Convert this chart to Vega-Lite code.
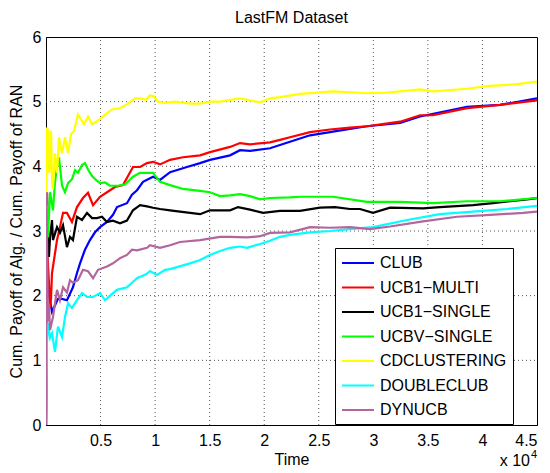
{
"$schema": "https://vega.github.io/schema/vega-lite/v6.json",
"width": 491, "height": 388,
"autosize": "none",
"padding": {"left": 46, "top": 37, "right": 13, "bottom": 48},
"background": "white",
"title": {"text": "LastFM Dataset", "font": "Liberation Sans", "fontSize": 16, "fontWeight": "normal", "color": "black", "anchor": "middle", "offset": 3},
"config": {
  "view": {"stroke": "black", "strokeWidth": 1},
  "axis": {"domainColor": "black", "labelColor": "black", "titleColor": "black", "labelFont": "Liberation Sans", "labelFontSize": 16, "titleFont": "Liberation Sans", "titleFontSize": 16, "titleFontWeight": "normal", "ticks": false, "grid": false}
},
"datasets": {
"main": [
{"alg":"CLUB","t":0,"v":0},{"alg":"CLUB","t":0.009,"v":2.2},{"alg":"CLUB","t":0.055,"v":1.75},{"alg":"CLUB","t":0.110,"v":1.95},{"alg":"CLUB","t":0.147,"v":1.95},{"alg":"CLUB","t":0.192,"v":1.93},{"alg":"CLUB","t":0.247,"v":2.13},{"alg":"CLUB","t":0.284,"v":2.35},{"alg":"CLUB","t":0.312,"v":2.5},{"alg":"CLUB","t":0.357,"v":2.71},{"alg":"CLUB","t":0.403,"v":2.86},{"alg":"CLUB","t":0.449,"v":2.98},{"alg":"CLUB","t":0.495,"v":3.06},{"alg":"CLUB","t":0.559,"v":3.14},{"alg":"CLUB","t":0.614,"v":3.25},{"alg":"CLUB","t":0.651,"v":3.37},{"alg":"CLUB","t":0.742,"v":3.43},{"alg":"CLUB","t":0.788,"v":3.56},{"alg":"CLUB","t":0.834,"v":3.63},{"alg":"CLUB","t":0.889,"v":3.76},{"alg":"CLUB","t":0.981,"v":3.84},{"alg":"CLUB","t":1.045,"v":3.79},{"alg":"CLUB","t":1.137,"v":3.91},{"alg":"CLUB","t":1.292,"v":3.99},{"alg":"CLUB","t":1.412,"v":4.05},{"alg":"CLUB","t":1.503,"v":4.1},{"alg":"CLUB","t":1.687,"v":4.17},{"alg":"CLUB","t":1.778,"v":4.25},{"alg":"CLUB","t":1.870,"v":4.24},{"alg":"CLUB","t":2.053,"v":4.28},{"alg":"CLUB","t":2.236,"v":4.38},{"alg":"CLUB","t":2.420,"v":4.48},{"alg":"CLUB","t":2.603,"v":4.53},{"alg":"CLUB","t":2.786,"v":4.58},{"alg":"CLUB","t":2.942,"v":4.62},{"alg":"CLUB","t":3.245,"v":4.67},{"alg":"CLUB","t":3.428,"v":4.77},{"alg":"CLUB","t":3.859,"v":4.92},{"alg":"CLUB","t":4.161,"v":4.95},{"alg":"CLUB","t":4.5,"v":5.05},
{"alg":"UCB1−MULTI","t":0,"v":0},{"alg":"UCB1−MULTI","t":0.009,"v":2.8},{"alg":"UCB1−MULTI","t":0.027,"v":2.2},{"alg":"UCB1−MULTI","t":0.037,"v":1.82},{"alg":"UCB1−MULTI","t":0.046,"v":1.95},{"alg":"UCB1−MULTI","t":0.055,"v":2.35},{"alg":"UCB1−MULTI","t":0.101,"v":2.86},{"alg":"UCB1−MULTI","t":0.128,"v":3.06},{"alg":"UCB1−MULTI","t":0.156,"v":3.28},{"alg":"UCB1−MULTI","t":0.192,"v":3.28},{"alg":"UCB1−MULTI","t":0.238,"v":3.14},{"alg":"UCB1−MULTI","t":0.284,"v":3.37},{"alg":"UCB1−MULTI","t":0.339,"v":3.51},{"alg":"UCB1−MULTI","t":0.385,"v":3.59},{"alg":"UCB1−MULTI","t":0.431,"v":3.4},{"alg":"UCB1−MULTI","t":0.495,"v":3.53},{"alg":"UCB1−MULTI","t":0.587,"v":3.63},{"alg":"UCB1−MULTI","t":0.632,"v":3.68},{"alg":"UCB1−MULTI","t":0.706,"v":3.71},{"alg":"UCB1−MULTI","t":0.797,"v":3.99},{"alg":"UCB1−MULTI","t":0.862,"v":3.99},{"alg":"UCB1−MULTI","t":0.926,"v":4.05},{"alg":"UCB1−MULTI","t":0.981,"v":4.07},{"alg":"UCB1−MULTI","t":1.045,"v":4.03},{"alg":"UCB1−MULTI","t":1.137,"v":4.1},{"alg":"UCB1−MULTI","t":1.256,"v":4.14},{"alg":"UCB1−MULTI","t":1.412,"v":4.17},{"alg":"UCB1−MULTI","t":1.503,"v":4.22},{"alg":"UCB1−MULTI","t":1.687,"v":4.3},{"alg":"UCB1−MULTI","t":1.778,"v":4.36},{"alg":"UCB1−MULTI","t":1.870,"v":4.34},{"alg":"UCB1−MULTI","t":2.053,"v":4.37},{"alg":"UCB1−MULTI","t":2.145,"v":4.41},{"alg":"UCB1−MULTI","t":2.236,"v":4.45},{"alg":"UCB1−MULTI","t":2.420,"v":4.53},{"alg":"UCB1−MULTI","t":2.603,"v":4.57},{"alg":"UCB1−MULTI","t":2.786,"v":4.6},{"alg":"UCB1−MULTI","t":2.942,"v":4.62},{"alg":"UCB1−MULTI","t":3.245,"v":4.69},{"alg":"UCB1−MULTI","t":3.428,"v":4.79},{"alg":"UCB1−MULTI","t":3.547,"v":4.79},{"alg":"UCB1−MULTI","t":3.859,"v":4.9},{"alg":"UCB1−MULTI","t":4.161,"v":4.95},{"alg":"UCB1−MULTI","t":4.5,"v":5.02},
{"alg":"UCB1−SINGLE","t":0,"v":0},{"alg":"UCB1−SINGLE","t":0.009,"v":3.6},{"alg":"UCB1−SINGLE","t":0.018,"v":3.0},{"alg":"UCB1−SINGLE","t":0.027,"v":2.6},{"alg":"UCB1−SINGLE","t":0.037,"v":2.9},{"alg":"UCB1−SINGLE","t":0.055,"v":3.17},{"alg":"UCB1−SINGLE","t":0.064,"v":2.86},{"alg":"UCB1−SINGLE","t":0.101,"v":3.06},{"alg":"UCB1−SINGLE","t":0.128,"v":2.97},{"alg":"UCB1−SINGLE","t":0.156,"v":3.09},{"alg":"UCB1−SINGLE","t":0.192,"v":2.75},{"alg":"UCB1−SINGLE","t":0.220,"v":2.91},{"alg":"UCB1−SINGLE","t":0.247,"v":2.86},{"alg":"UCB1−SINGLE","t":0.284,"v":3.22},{"alg":"UCB1−SINGLE","t":0.330,"v":3.17},{"alg":"UCB1−SINGLE","t":0.376,"v":3.28},{"alg":"UCB1−SINGLE","t":0.422,"v":3.2},{"alg":"UCB1−SINGLE","t":0.467,"v":3.2},{"alg":"UCB1−SINGLE","t":0.513,"v":3.22},{"alg":"UCB1−SINGLE","t":0.559,"v":3.14},{"alg":"UCB1−SINGLE","t":0.614,"v":3.16},{"alg":"UCB1−SINGLE","t":0.678,"v":3.12},{"alg":"UCB1−SINGLE","t":0.742,"v":3.16},{"alg":"UCB1−SINGLE","t":0.797,"v":3.32},{"alg":"UCB1−SINGLE","t":0.862,"v":3.4},{"alg":"UCB1−SINGLE","t":0.926,"v":3.38},{"alg":"UCB1−SINGLE","t":0.981,"v":3.36},{"alg":"UCB1−SINGLE","t":1.045,"v":3.34},{"alg":"UCB1−SINGLE","t":1.137,"v":3.32},{"alg":"UCB1−SINGLE","t":1.228,"v":3.3},{"alg":"UCB1−SINGLE","t":1.412,"v":3.26},{"alg":"UCB1−SINGLE","t":1.503,"v":3.32},{"alg":"UCB1−SINGLE","t":1.687,"v":3.32},{"alg":"UCB1−SINGLE","t":1.760,"v":3.37},{"alg":"UCB1−SINGLE","t":1.870,"v":3.33},{"alg":"UCB1−SINGLE","t":1.989,"v":3.28},{"alg":"UCB1−SINGLE","t":2.145,"v":3.31},{"alg":"UCB1−SINGLE","t":2.328,"v":3.31},{"alg":"UCB1−SINGLE","t":2.511,"v":3.36},{"alg":"UCB1−SINGLE","t":2.649,"v":3.37},{"alg":"UCB1−SINGLE","t":2.786,"v":3.34},{"alg":"UCB1−SINGLE","t":2.878,"v":3.34},{"alg":"UCB1−SINGLE","t":2.997,"v":3.28},{"alg":"UCB1−SINGLE","t":3.153,"v":3.36},{"alg":"UCB1−SINGLE","t":3.456,"v":3.35},{"alg":"UCB1−SINGLE","t":3.611,"v":3.37},{"alg":"UCB1−SINGLE","t":3.914,"v":3.4},{"alg":"UCB1−SINGLE","t":4.097,"v":3.43},{"alg":"UCB1−SINGLE","t":4.409,"v":3.49},{"alg":"UCB1−SINGLE","t":4.5,"v":3.51},
{"alg":"UCBV−SINGLE","t":0,"v":0},{"alg":"UCBV−SINGLE","t":0.009,"v":3.4},{"alg":"UCBV−SINGLE","t":0.018,"v":2.9},{"alg":"UCBV−SINGLE","t":0.037,"v":3.6},{"alg":"UCBV−SINGLE","t":0.064,"v":3.32},{"alg":"UCBV−SINGLE","t":0.082,"v":3.74},{"alg":"UCBV−SINGLE","t":0.101,"v":4.0},{"alg":"UCBV−SINGLE","t":0.119,"v":4.14},{"alg":"UCBV−SINGLE","t":0.147,"v":3.7},{"alg":"UCBV−SINGLE","t":0.174,"v":3.6},{"alg":"UCBV−SINGLE","t":0.202,"v":3.74},{"alg":"UCBV−SINGLE","t":0.238,"v":3.8},{"alg":"UCBV−SINGLE","t":0.266,"v":3.94},{"alg":"UCBV−SINGLE","t":0.293,"v":3.9},{"alg":"UCBV−SINGLE","t":0.330,"v":4.02},{"alg":"UCBV−SINGLE","t":0.357,"v":4.05},{"alg":"UCBV−SINGLE","t":0.385,"v":3.95},{"alg":"UCBV−SINGLE","t":0.422,"v":3.85},{"alg":"UCBV−SINGLE","t":0.458,"v":3.79},{"alg":"UCBV−SINGLE","t":0.495,"v":3.74},{"alg":"UCBV−SINGLE","t":0.541,"v":3.75},{"alg":"UCBV−SINGLE","t":0.587,"v":3.7},{"alg":"UCBV−SINGLE","t":0.660,"v":3.7},{"alg":"UCBV−SINGLE","t":0.724,"v":3.72},{"alg":"UCBV−SINGLE","t":0.797,"v":3.84},{"alg":"UCBV−SINGLE","t":0.862,"v":3.9},{"alg":"UCBV−SINGLE","t":0.926,"v":3.9},{"alg":"UCBV−SINGLE","t":0.981,"v":3.9},{"alg":"UCBV−SINGLE","t":1.045,"v":3.76},{"alg":"UCBV−SINGLE","t":1.137,"v":3.71},{"alg":"UCBV−SINGLE","t":1.256,"v":3.65},{"alg":"UCBV−SINGLE","t":1.412,"v":3.62},{"alg":"UCBV−SINGLE","t":1.503,"v":3.6},{"alg":"UCBV−SINGLE","t":1.595,"v":3.54},{"alg":"UCBV−SINGLE","t":1.687,"v":3.55},{"alg":"UCBV−SINGLE","t":1.778,"v":3.57},{"alg":"UCBV−SINGLE","t":1.870,"v":3.54},{"alg":"UCBV−SINGLE","t":1.962,"v":3.49},{"alg":"UCBV−SINGLE","t":2.053,"v":3.51},{"alg":"UCBV−SINGLE","t":2.236,"v":3.52},{"alg":"UCBV−SINGLE","t":2.328,"v":3.53},{"alg":"UCBV−SINGLE","t":2.631,"v":3.53},{"alg":"UCBV−SINGLE","t":2.942,"v":3.45},{"alg":"UCBV−SINGLE","t":3.245,"v":3.45},{"alg":"UCBV−SINGLE","t":3.547,"v":3.43},{"alg":"UCBV−SINGLE","t":3.859,"v":3.46},{"alg":"UCBV−SINGLE","t":4.161,"v":3.46},{"alg":"UCBV−SINGLE","t":4.5,"v":3.51},
{"alg":"CDCLUSTERING","t":0,"v":0},{"alg":"CDCLUSTERING","t":0.004,"v":3.6},{"alg":"CDCLUSTERING","t":0.009,"v":4.6},{"alg":"CDCLUSTERING","t":0.018,"v":4.55},{"alg":"CDCLUSTERING","t":0.027,"v":3.9},{"alg":"CDCLUSTERING","t":0.037,"v":4.0},{"alg":"CDCLUSTERING","t":0.046,"v":4.55},{"alg":"CDCLUSTERING","t":0.055,"v":3.8},{"alg":"CDCLUSTERING","t":0.064,"v":3.65},{"alg":"CDCLUSTERING","t":0.082,"v":4.2},{"alg":"CDCLUSTERING","t":0.101,"v":3.9},{"alg":"CDCLUSTERING","t":0.119,"v":4.45},{"alg":"CDCLUSTERING","t":0.147,"v":4.2},{"alg":"CDCLUSTERING","t":0.174,"v":4.45},{"alg":"CDCLUSTERING","t":0.202,"v":4.2},{"alg":"CDCLUSTERING","t":0.229,"v":4.5},{"alg":"CDCLUSTERING","t":0.257,"v":4.55},{"alg":"CDCLUSTERING","t":0.293,"v":4.8},{"alg":"CDCLUSTERING","t":0.312,"v":4.75},{"alg":"CDCLUSTERING","t":0.348,"v":4.65},{"alg":"CDCLUSTERING","t":0.385,"v":4.77},{"alg":"CDCLUSTERING","t":0.422,"v":4.65},{"alg":"CDCLUSTERING","t":0.467,"v":4.7},{"alg":"CDCLUSTERING","t":0.495,"v":4.73},{"alg":"CDCLUSTERING","t":0.541,"v":4.8},{"alg":"CDCLUSTERING","t":0.605,"v":4.88},{"alg":"CDCLUSTERING","t":0.678,"v":4.9},{"alg":"CDCLUSTERING","t":0.752,"v":4.97},{"alg":"CDCLUSTERING","t":0.816,"v":5.05},{"alg":"CDCLUSTERING","t":0.862,"v":5.05},{"alg":"CDCLUSTERING","t":0.917,"v":5.03},{"alg":"CDCLUSTERING","t":0.953,"v":5.1},{"alg":"CDCLUSTERING","t":0.990,"v":5.08},{"alg":"CDCLUSTERING","t":1.027,"v":5.0},{"alg":"CDCLUSTERING","t":1.091,"v":4.98},{"alg":"CDCLUSTERING","t":1.182,"v":5.0},{"alg":"CDCLUSTERING","t":1.320,"v":4.97},{"alg":"CDCLUSTERING","t":1.412,"v":4.97},{"alg":"CDCLUSTERING","t":1.503,"v":5.0},{"alg":"CDCLUSTERING","t":1.595,"v":5.0},{"alg":"CDCLUSTERING","t":1.778,"v":5.05},{"alg":"CDCLUSTERING","t":1.962,"v":4.99},{"alg":"CDCLUSTERING","t":2.053,"v":5.05},{"alg":"CDCLUSTERING","t":2.145,"v":5.07},{"alg":"CDCLUSTERING","t":2.328,"v":5.12},{"alg":"CDCLUSTERING","t":2.631,"v":5.16},{"alg":"CDCLUSTERING","t":2.942,"v":5.13},{"alg":"CDCLUSTERING","t":3.126,"v":5.14},{"alg":"CDCLUSTERING","t":3.428,"v":5.19},{"alg":"CDCLUSTERING","t":3.547,"v":5.16},{"alg":"CDCLUSTERING","t":3.859,"v":5.2},{"alg":"CDCLUSTERING","t":4.042,"v":5.24},{"alg":"CDCLUSTERING","t":4.317,"v":5.27},{"alg":"CDCLUSTERING","t":4.5,"v":5.31},
{"alg":"DOUBLECLUB","t":0,"v":0},{"alg":"DOUBLECLUB","t":0.009,"v":1.27},{"alg":"DOUBLECLUB","t":0.018,"v":1.58},{"alg":"DOUBLECLUB","t":0.037,"v":1.35},{"alg":"DOUBLECLUB","t":0.055,"v":1.42},{"alg":"DOUBLECLUB","t":0.082,"v":1.13},{"alg":"DOUBLECLUB","t":0.110,"v":1.52},{"alg":"DOUBLECLUB","t":0.147,"v":1.36},{"alg":"DOUBLECLUB","t":0.174,"v":1.67},{"alg":"DOUBLECLUB","t":0.202,"v":1.88},{"alg":"DOUBLECLUB","t":0.238,"v":1.81},{"alg":"DOUBLECLUB","t":0.284,"v":1.93},{"alg":"DOUBLECLUB","t":0.330,"v":2.04},{"alg":"DOUBLECLUB","t":0.376,"v":1.98},{"alg":"DOUBLECLUB","t":0.431,"v":1.98},{"alg":"DOUBLECLUB","t":0.495,"v":2.04},{"alg":"DOUBLECLUB","t":0.541,"v":1.93},{"alg":"DOUBLECLUB","t":0.587,"v":2.0},{"alg":"DOUBLECLUB","t":0.651,"v":2.09},{"alg":"DOUBLECLUB","t":0.742,"v":2.13},{"alg":"DOUBLECLUB","t":0.834,"v":2.27},{"alg":"DOUBLECLUB","t":0.917,"v":2.33},{"alg":"DOUBLECLUB","t":0.953,"v":2.38},{"alg":"DOUBLECLUB","t":1.017,"v":2.32},{"alg":"DOUBLECLUB","t":1.091,"v":2.4},{"alg":"DOUBLECLUB","t":1.137,"v":2.41},{"alg":"DOUBLECLUB","t":1.320,"v":2.5},{"alg":"DOUBLECLUB","t":1.412,"v":2.55},{"alg":"DOUBLECLUB","t":1.503,"v":2.63},{"alg":"DOUBLECLUB","t":1.595,"v":2.69},{"alg":"DOUBLECLUB","t":1.687,"v":2.74},{"alg":"DOUBLECLUB","t":1.778,"v":2.76},{"alg":"DOUBLECLUB","t":1.842,"v":2.74},{"alg":"DOUBLECLUB","t":1.962,"v":2.8},{"alg":"DOUBLECLUB","t":2.053,"v":2.85},{"alg":"DOUBLECLUB","t":2.145,"v":2.91},{"alg":"DOUBLECLUB","t":2.236,"v":2.94},{"alg":"DOUBLECLUB","t":2.420,"v":2.98},{"alg":"DOUBLECLUB","t":2.603,"v":3.0},{"alg":"DOUBLECLUB","t":2.786,"v":3.03},{"alg":"DOUBLECLUB","t":2.997,"v":3.06},{"alg":"DOUBLECLUB","t":3.309,"v":3.17},{"alg":"DOUBLECLUB","t":3.611,"v":3.26},{"alg":"DOUBLECLUB","t":3.914,"v":3.3},{"alg":"DOUBLECLUB","t":4.225,"v":3.34},{"alg":"DOUBLECLUB","t":4.5,"v":3.39},
{"alg":"DYNUCB","t":0,"v":0},{"alg":"DYNUCB","t":0.004,"v":3.6},{"alg":"DYNUCB","t":0.018,"v":1.6},{"alg":"DYNUCB","t":0.027,"v":1.88},{"alg":"DYNUCB","t":0.037,"v":1.47},{"alg":"DYNUCB","t":0.064,"v":1.67},{"alg":"DYNUCB","t":0.101,"v":2.09},{"alg":"DYNUCB","t":0.128,"v":1.93},{"alg":"DYNUCB","t":0.156,"v":2.13},{"alg":"DYNUCB","t":0.192,"v":2.05},{"alg":"DYNUCB","t":0.220,"v":2.24},{"alg":"DYNUCB","t":0.247,"v":2.2},{"alg":"DYNUCB","t":0.293,"v":2.24},{"alg":"DYNUCB","t":0.339,"v":2.4},{"alg":"DYNUCB","t":0.385,"v":2.38},{"alg":"DYNUCB","t":0.431,"v":2.27},{"alg":"DYNUCB","t":0.477,"v":2.4},{"alg":"DYNUCB","t":0.559,"v":2.45},{"alg":"DYNUCB","t":0.614,"v":2.5},{"alg":"DYNUCB","t":0.678,"v":2.58},{"alg":"DYNUCB","t":0.742,"v":2.63},{"alg":"DYNUCB","t":0.788,"v":2.71},{"alg":"DYNUCB","t":0.834,"v":2.7},{"alg":"DYNUCB","t":0.926,"v":2.74},{"alg":"DYNUCB","t":0.953,"v":2.78},{"alg":"DYNUCB","t":1.045,"v":2.74},{"alg":"DYNUCB","t":1.137,"v":2.78},{"alg":"DYNUCB","t":1.228,"v":2.83},{"alg":"DYNUCB","t":1.412,"v":2.86},{"alg":"DYNUCB","t":1.595,"v":2.91},{"alg":"DYNUCB","t":1.687,"v":2.91},{"alg":"DYNUCB","t":1.842,"v":2.9},{"alg":"DYNUCB","t":1.962,"v":2.92},{"alg":"DYNUCB","t":2.053,"v":2.97},{"alg":"DYNUCB","t":2.236,"v":2.98},{"alg":"DYNUCB","t":2.420,"v":3.06},{"alg":"DYNUCB","t":2.603,"v":3.05},{"alg":"DYNUCB","t":2.786,"v":3.06},{"alg":"DYNUCB","t":2.970,"v":3.03},{"alg":"DYNUCB","t":3.153,"v":3.07},{"alg":"DYNUCB","t":3.456,"v":3.15},{"alg":"DYNUCB","t":3.767,"v":3.22},{"alg":"DYNUCB","t":4.070,"v":3.25},{"alg":"DYNUCB","t":4.372,"v":3.28},{"alg":"DYNUCB","t":4.5,"v":3.3}
]},
"layer": [
  {
    "data": {"values": [{"g":0.5},{"g":1},{"g":1.5},{"g":2},{"g":2.5},{"g":3},{"g":3.5},{"g":4}]},
    "mark": {"type": "rule", "strokeDash": [1, 3], "color": "#555555", "strokeWidth": 1},
    "encoding": {"x": {"field": "g", "type": "quantitative"}, "y": {"datum": 0, "type": "quantitative"}, "y2": {"datum": 6}}
  },
  {
    "data": {"values": [{"g":1},{"g":2},{"g":3},{"g":4},{"g":5}]},
    "mark": {"type": "rule", "strokeDash": [1, 3], "color": "#555555", "strokeWidth": 1},
    "encoding": {"y": {"field": "g", "type": "quantitative"}, "x": {"datum": 0, "type": "quantitative"}, "x2": {"datum": 4.5}}
  },
  {
    "data": {"name": "main"},
    "mark": {"type": "line", "strokeWidth": 2.2, "clip": true},
    "encoding": {
      "x": {"field": "t", "type": "quantitative", "scale": {"domain": [0, 4.5], "nice": false, "zero": false},
            "axis": {"values": [0.5, 1, 1.5, 2, 2.5, 3, 3.5, 4, 4.5], "format": "~g", "title": "Time", "labelPadding": 7, "titlePadding": 3}},
      "y": {"field": "v", "type": "quantitative", "scale": {"domain": [0, 6], "nice": false},
            "axis": {"values": [0, 1, 2, 3, 4, 5, 6], "format": "~g", "title": "Cum. Payoff of Alg. / Cum. Payoff of RAN", "labelPadding": 5, "titlePadding": 8}},
      "color": {"field": "alg", "type": "nominal",
        "scale": {"domain": ["CLUB", "UCB1−MULTI", "UCB1−SINGLE", "UCBV−SINGLE", "CDCLUSTERING", "DOUBLECLUB", "DYNUCB"],
                  "range": ["#0000FF", "#FF0000", "#000000", "#00FF00", "#FFFF00", "#00FFFF", "#B3669E"]},
        "legend": {"title": null, "orient": "none", "legendX": 289, "legendY": 211, "strokeColor": "black", "fillColor": "white", "padding": 6,
                   "labelFont": "Liberation Sans", "labelFontSize": 16, "labelColor": "black", "symbolType": "M-2,0H2", "symbolSize": 256, "symbolStrokeWidth": 2,
                   "rowPadding": 7.5, "symbolOffset": 8, "labelOffset": 13, "cornerRadius": 0}}
    }
  },
  {
    "data": {"values": [{"label": "x 10"}]},
    "mark": {"type": "text", "font": "Liberation Sans", "fontSize": 16, "color": "black", "align": "right", "baseline": "alphabetic", "dx": -7, "dy": 41},
    "encoding": {"x": {"datum": 4.5, "type": "quantitative"}, "y": {"datum": 0, "type": "quantitative"}, "text": {"field": "label"}}
  },
  {
    "data": {"values": [{"label": "4"}]},
    "mark": {"type": "text", "font": "Liberation Sans", "fontSize": 11, "color": "black", "align": "left", "baseline": "alphabetic", "dx": -6, "dy": 33},
    "encoding": {"x": {"datum": 4.5, "type": "quantitative"}, "y": {"datum": 0, "type": "quantitative"}, "text": {"field": "label"}}
  }
]
}
